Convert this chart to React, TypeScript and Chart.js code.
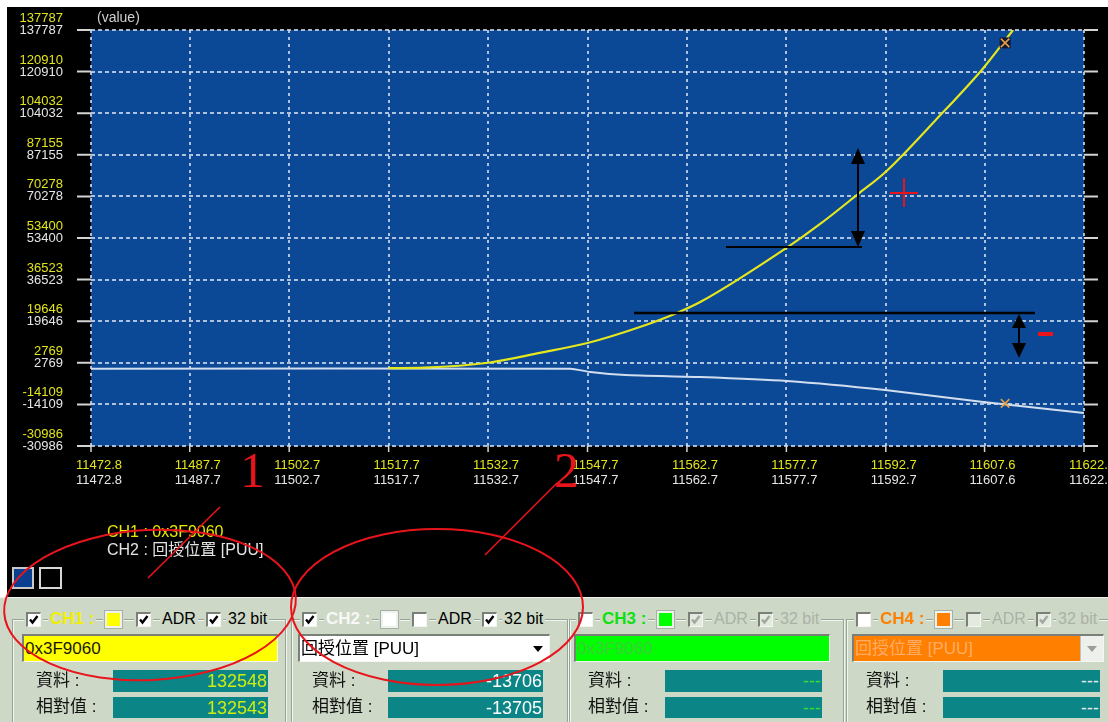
import React, { useEffect, useRef } from "react";
import { Chart, registerables } from "chart.js";
Chart.register(...registerables);

// ---- data ----
const xTickLabels = ["11472.8", "11487.7", "11502.7", "11517.7", "11532.7", "11547.7", "11562.7", "11577.7", "11592.7", "11607.6", "11622.6"];
const yTickLabels = ["137787", "120910", "104032", "87155", "70278", "53400", "36523", "19646", "2769", "-14109", "-30986"];

const ch1X = [11517.7, 11523.1, 11532.7, 11540.5, 11547.7, 11555.6, 11561.2, 11564.7, 11578.0, 11582.8, 11588.5, 11592.7, 11600.1, 11607.4, 11611.9];
const ch1Y = [600, 800, 2800, 6800, 10800, 17300, 23000, 27400, 49900, 59100, 71200, 80300, 100900, 122300, 137787];

const ch2X = [11472.8, 11545.1, 11548.1, 11553.4, 11564.7, 11577.8, 11592.6, 11607.4, 11622.6];
const ch2Y = [400, 400, -960, -2180, -2990, -4610, -8270, -13140, -17600];

const cursorX = 11610.7;
const cursorValues = [132548, -13706];

const legendLines = ["CH1 : 0x3F9060", "CH2 : 回授位置 [PUU]"];
const channelNames = ["CH1 :", "CH2 :", "CH3 :", "CH4 :"];
const channelSources = ["0x3F9060", "回授位置 [PUU]", "0x3F9060", "回授位置 [PUU]"];
const channelData = ["132548", "-13706", "---", "---"];
const channelRelative = ["132543", "-13705", "---", "---"];
const dataLabel = "資料 :";
const relLabel = "相對值 :";

// ---- styles ----
const PANEL_BG = "#cdd8c6";
const SANS = '"Liberation Sans", "Noto Sans CJK TC", Arial, sans-serif';
const YELLOW = "#e2e41c";
const WHITE_LBL = "#e6e6e6";
const PLOT_BG = "#0b4896";
const RED = "#e8141c";

const groupStyles = [
  { off: 0, gx: 12, gw: 272, nameColor: "#f0f000", swatch: "#ffff00", checks: [true, true, true], disabled: false, dropdown: false, boxBg: "#ffff00", boxColor: "#1a1a00", boxW: 256, valColor: "#cfec10", tealW: 155 },
  { off: 276, gx: 291, gw: 275, nameColor: "#f8f8f8", swatch: "#ffffff", checks: [true, false, true], disabled: false, dropdown: true, boxBg: "#ffffff", boxColor: "#000000", boxW: 252, valColor: "#ffffff", tealW: 155 },
  { off: 552, gx: 569, gw: 273, nameColor: "#10e010", swatch: "#00ff00", checks: [false, true, true], disabled: true, dropdown: false, boxBg: "#00ff00", boxColor: "#3ad03a", boxW: 256, valColor: "#30e030", tealW: 157 },
  { off: 830, gx: 846, gw: 262, nameColor: "#ff8000", swatch: "#ff8000", checks: [false, false, true], disabled: true, dropdown: true, boxBg: "#ff8000", boxColor: "#ffac66", boxW: 252, valColor: "#e8e8e8", tealW: 157 },
];

function CheckBox({ x, y, checked, disabled }: { x: number; y: number; checked: boolean; disabled: boolean }) {
  return (
    <div style={{ position: "absolute", left: x - 2, top: y - 2, width: 19, height: 19, background: PANEL_BG }}>
      <div
        style={{
          position: "absolute", left: 2, top: 2, width: 15, height: 15, boxSizing: "border-box",
          background: disabled ? "#e4eae0" : "#ffffff",
          borderTop: "2px solid #7a7f78", borderLeft: "2px solid #7a7f78",
          borderRight: "1px solid #f4f6f2", borderBottom: "1px solid #f4f6f2",
        }}
      >
        {checked && (
          <svg width="13" height="13" style={{ position: "absolute", left: -1, top: -1 }}>
            <path d="M3 6.5 L5.5 9.5 L10.5 3" stroke={disabled ? "#a2a8a0" : "#000"} strokeWidth="2.4" fill="none" />
          </svg>
        )}
      </div>
    </div>
  );
}

function Group({ i }: { i: number }) {
  const g = groupStyles[i];
  const o = g.off;
  const txtColor = g.disabled ? "#aab2a8" : "#000";
  const lbl = (x: number, text: string, extra: any) => (
    <div style={{ position: "absolute", left: x, top: 609, height: 20, lineHeight: "20px", padding: "0 2px", background: PANEL_BG, whiteSpace: "nowrap", ...extra }}>{text}</div>
  );
  return (
    <>
      <div style={{ position: "absolute", left: g.gx, top: 619, width: g.gw, height: 200, border: "1px solid #98a296", boxShadow: "inset 1px 1px 0 #f2f6f0, 1px 1px 0 #f2f6f0" }} />
      <CheckBox x={26 + o} y={612} checked={g.checks[0]} disabled={false} />
      {lbl(48 + o, channelNames[i], { fontWeight: "bold", fontSize: 17, color: g.nameColor })}
      <div style={{ position: "absolute", left: 103 + o, top: 609, width: 21, height: 21, background: PANEL_BG }}>
        <div style={{ position: "absolute", left: 2, top: 2, width: 17, height: 17, boxSizing: "border-box", background: g.swatch, border: "2px solid #eef2ec", outline: "1px solid #a8b0a6" }} />
      </div>
      <CheckBox x={136 + o} y={612} checked={g.checks[1]} disabled={g.disabled} />
      {lbl(160 + o, "ADR", { fontSize: 16, color: txtColor })}
      <CheckBox x={206 + o} y={612} checked={g.checks[2]} disabled={g.disabled} />
      {lbl(226 + o, "32 bit", { fontSize: 16, color: txtColor })}
      <div
        style={{
          position: "absolute", left: 22 + o, top: 634, width: g.boxW, height: 28, boxSizing: "border-box",
          background: g.boxBg, borderTop: "2px solid #7a7f78", borderLeft: "2px solid #7a7f78",
          borderRight: "1px solid #f4f6f2", borderBottom: "1px solid #f4f6f2",
          fontSize: 17, lineHeight: "25px", color: g.boxColor, paddingLeft: 1, whiteSpace: "nowrap", overflow: "hidden",
        }}
      >
        {channelSources[i]}
        {g.dropdown && (
          <div style={{ position: "absolute", right: 0, top: 0, width: 22, height: 25, background: i === 3 ? "#eef0ec" : "transparent", borderLeft: i === 3 ? "1px solid #c0c4be" : "none" }}>
            <svg width="22" height="25" style={{ position: "absolute", left: 0, top: 0 }}>
              <polygon points="6,10 16,10 11,16" fill={i === 3 ? "#9a9e98" : "#000"} />
            </svg>
          </div>
        )}
      </div>
      <div style={{ position: "absolute", left: 36 + o, top: 671, fontSize: 17, lineHeight: "20px", color: "#111" }}>{dataLabel}</div>
      <div style={{ position: "absolute", left: 36 + o, top: 697, fontSize: 17, lineHeight: "20px", color: "#111" }}>{relLabel}</div>
      <div style={{ position: "absolute", left: 113 + o - (i === 1 ? 1 : 0), top: 670, width: g.tealW, height: 22, background: "#0b8585", color: g.valColor, fontSize: 18, lineHeight: "23px", textAlign: "right", paddingRight: 1, boxSizing: "border-box" }}>{channelData[i]}</div>
      <div style={{ position: "absolute", left: 113 + o - (i === 1 ? 1 : 0), top: 697, width: g.tealW, height: 21, background: "#0b8585", color: g.valColor, fontSize: 18, lineHeight: "22px", textAlign: "right", paddingRight: 1, boxSizing: "border-box" }}>{channelRelative[i]}</div>
    </>
  );
}

export default function App() {
  const canvasRef = useRef<HTMLCanvasElement | null>(null);

  useEffect(() => {
    const canvas = canvasRef.current;
    if (!canvas) return;
    const xTickValues = xTickLabels.map(Number);
    const yTickValues = yTickLabels.map(Number);

    const framePlugin = {
      id: "frame",
      beforeDraw(chart: any) {
        const { ctx, chartArea } = chart;
        ctx.save();
        ctx.fillStyle = "#ffffff";
        ctx.fillRect(0, 0, chart.width, chart.height);
        ctx.fillStyle = "#000000";
        ctx.fillRect(7, 7, chart.width - 7, chart.height - 7);
        ctx.fillStyle = PLOT_BG;
        ctx.fillRect(chartArea.left, chartArea.top, chartArea.right - chartArea.left, chartArea.bottom - chartArea.top);
        ctx.restore();
      },
      afterDraw(chart: any) {
        const { ctx, chartArea } = chart;
        const { left, right, top, bottom } = chartArea;
        const xs = chart.scales.x;
        const ys = chart.scales.y;
        ctx.save();
        ctx.font = '13px "Liberation Sans", Arial, sans-serif';
        ctx.textBaseline = "middle";
        ctx.lineWidth = 2;
        ctx.strokeStyle = "#d4d4d4";
        ctx.textAlign = "right";
        yTickLabels.forEach((lab, i) => {
          const py = ys.getPixelForValue(yTickValues[i]);
          ctx.fillStyle = YELLOW;
          ctx.fillText(lab, left - 28, py - 11.5);
          ctx.fillStyle = WHITE_LBL;
          ctx.fillText(lab, left - 28, py + 0.5);
          ctx.beginPath();
          ctx.moveTo(left - 14, py);
          ctx.lineTo(left, py);
          ctx.moveTo(right, py);
          ctx.lineTo(right + 14, py);
          ctx.stroke();
        });
        ctx.textAlign = "center";
        ctx.lineWidth = 1.5;
        xTickLabels.forEach((lab, i) => {
          const px = xs.getPixelForValue(xTickValues[i]);
          ctx.fillStyle = YELLOW;
          ctx.fillText(lab, px + 8, bottom + 19);
          ctx.fillStyle = WHITE_LBL;
          ctx.fillText(lab, px + 8, bottom + 34);
          ctx.beginPath();
          ctx.moveTo(px, bottom);
          ctx.lineTo(px, bottom + 6);
          ctx.stroke();
        });
        ctx.textAlign = "left";
        ctx.font = '14px "Liberation Sans", Arial, sans-serif';
        ctx.fillStyle = "#cfcfcf";
        ctx.fillText("(value)", left + 6, top - 12);
        ctx.restore();
      },
    };

    const chart = new Chart(canvas, {
      type: "line",
      data: {
        datasets: [
          {
            label: "cursor",
            data: [{ x: cursorX, y: cursorValues[0] }, { x: cursorX, y: cursorValues[1] }],
            showLine: false,
            pointStyle: "crossRot",
            pointRadius: 6,
            pointBorderColor: "#e6a040",
            borderColor: "#e6a040",
            pointBorderWidth: 1.6,
          },
          {
            label: "cursor box",
            data: [{ x: cursorX, y: cursorValues[0] }],
            showLine: false,
            pointStyle: "rect",
            pointRadius: 7,
            pointBackgroundColor: "#121533",
            pointBorderColor: "#121533",
            backgroundColor: "#121533",
            borderColor: "#121533",
            pointBorderWidth: 1,
          },
          {
            label: "CH1",
            data: ch1X.map((x, i) => ({ x, y: ch1Y[i] })),
            borderColor: "#e4e61e",
            borderWidth: 2.2,
            pointRadius: 0,
            cubicInterpolationMode: "monotone",
          },
          {
            label: "CH2",
            data: ch2X.map((x, i) => ({ x, y: ch2Y[i] })),
            borderColor: "#d2deef",
            borderWidth: 2,
            pointRadius: 0,
            tension: 0.2,
          },
        ],
      },
      options: {
        responsive: false,
        maintainAspectRatio: false,
        animation: false,
        events: [],
        layout: { padding: { left: 91, top: 30, right: 24, bottom: 151 }, autoPadding: false },
        plugins: { legend: { display: false }, tooltip: { enabled: false } },
        scales: {
          x: {
            type: "linear",
            min: xTickValues[0],
            max: xTickValues[xTickValues.length - 1],
            afterBuildTicks: (s: any) => { s.ticks = xTickValues.map((v) => ({ value: v })); },
            afterFit: (s: any) => { s.height = 0; },
            ticks: { display: false },
            grid: { color: "rgba(215,225,240,0.8)", lineWidth: 2, drawTicks: false },
            border: { display: false, dash: [3, 4] },
          },
          y: {
            type: "linear",
            min: yTickValues[yTickValues.length - 1],
            max: yTickValues[0],
            afterBuildTicks: (s: any) => { s.ticks = yTickValues.map((v) => ({ value: v })); },
            afterFit: (s: any) => { s.width = 0; },
            ticks: { display: false },
            grid: { color: "rgba(215,225,240,0.8)", lineWidth: 2, drawTicks: false },
            border: { display: false, dash: [4, 3] },
          },
        },
      },
      plugins: [framePlugin],
    } as any);
    return () => chart.destroy();
  }, []);

  return (
    <div style={{ position: "absolute", left: 0, top: 0, width: 1108, height: 722, background: "#ffffff", overflow: "hidden", fontFamily: SANS }}>
      <canvas ref={canvasRef} width={1108} height={597} style={{ position: "absolute", left: 0, top: 0, width: 1108, height: 597 }} />
      <div style={{ position: "absolute", left: 107, top: 523, fontSize: 16, lineHeight: "18px", color: "#e8e800", whiteSpace: "nowrap" }}>{legendLines[0]}</div>
      <div style={{ position: "absolute", left: 107, top: 541, fontSize: 16, lineHeight: "18px", color: "#e4e4e4", whiteSpace: "nowrap" }}>{legendLines[1]}</div>
      <div style={{ position: "absolute", left: 12, top: 567, width: 22, height: 22, boxSizing: "border-box", border: "2px solid #c8c8c8", background: "#0a3f90" }} />
      <div style={{ position: "absolute", left: 39, top: 567, width: 23, height: 22, boxSizing: "border-box", border: "2px solid #d8d8d8", background: "#000" }} />
      <div style={{ position: "absolute", left: 0, top: 597, width: 1108, height: 125, background: PANEL_BG, borderTop: "1px solid #eef2ec", boxSizing: "border-box" }} />
      {groupStyles.map((_, i) => (
        <Group key={i} i={i} />
      ))}
      <svg width="1108" height="722" style={{ position: "absolute", left: 0, top: 0, pointerEvents: "none" }}>
        <line x1="726" y1="247" x2="862" y2="247" stroke="#000" strokeWidth="2" />
        <line x1="858" y1="160" x2="858" y2="236" stroke="#000" strokeWidth="2" />
        <polygon points="858,148 851,164 865,164" fill="#000" />
        <polygon points="858,247 851,231 865,231" fill="#000" />
        <line x1="634" y1="313" x2="1035" y2="313" stroke="#000" strokeWidth="2.5" />
        <line x1="1019" y1="322" x2="1019" y2="350" stroke="#000" strokeWidth="2" />
        <polygon points="1019,314 1012,328 1026,328" fill="#000" />
        <polygon points="1019,358 1012,343 1026,343" fill="#000" />
        <line x1="890" y1="193" x2="918" y2="193" stroke={RED} strokeWidth="2" />
        <line x1="904" y1="178" x2="904" y2="207" stroke={RED} strokeWidth="2" />
        <line x1="1038" y1="334" x2="1053" y2="334" stroke={RED} strokeWidth="4" />
        <text x="240" y="487" fontFamily='"Liberation Serif", "DejaVu Serif", serif' fontSize="50" fill={RED}>1</text>
        <text x="554" y="487" fontFamily='"Liberation Serif", "DejaVu Serif", serif' fontSize="50" fill={RED}>2</text>
        <line x1="220" y1="507" x2="148" y2="578" stroke={RED} strokeWidth="1.6" />
        <line x1="557" y1="483" x2="485" y2="555" stroke={RED} strokeWidth="1.6" />
        <ellipse cx="150" cy="605" rx="146" ry="75" transform="rotate(-3 150 605)" fill="none" stroke={RED} strokeWidth="2" />
        <ellipse cx="437" cy="607" rx="146" ry="78" fill="none" stroke={RED} strokeWidth="2" />
      </svg>
    </div>
  );
}
